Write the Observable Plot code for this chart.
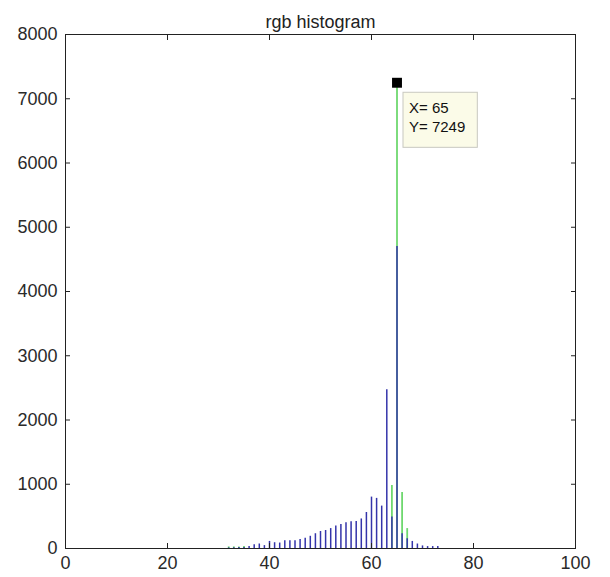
<!DOCTYPE html>
<html>
<head>
<meta charset="utf-8">
<script src="https://cdn.jsdelivr.net/npm/d3@7"></script>
<script src="https://cdn.jsdelivr.net/npm/@observablehq/plot@0.6"></script>
<style>
  html, body { margin: 0; padding: 0; background: #fff; }
  #chart { width: 610px; height: 577px; }
</style>
</head>
<body>
<div id="chart"></div>
<script>
// ---- data ----
const chartTitle = "rgb histogram";
const binX = [32,33,34,35,36,37,38,39,40,41,42,43,44,45,46,47,48,49,50,51,52,53,54,55,56,57,58,59,60,61,62,63,64,65,66,67,68,69,70,71,72,73];
const blueCounts = [10,10,15,15,30,58,70,45,110,90,85,120,120,120,140,160,190,230,265,280,310,350,375,400,415,420,460,560,800,780,660,2470,490,4700,230,150,110,70,40,30,30,30];
const greenX = [32,33,34,35,64,65,66,67];
const greenCounts = [25,25,25,30,980,7249,870,310];
const xTicks = [0,20,40,60,80,100];
const yTicks = [0,1000,2000,3000,4000,5000,6000,7000,8000];
const tipX = [65];
const tipY = [7249];

const blue = binX.map((x, i) => ({x, v: blueCounts[i]}));
const green = greenX.map((x, i) => ({x, v: greenCounts[i]}));
const tip = tipX.map((x, i) => ({x, y: tipY[i], label: `X= ${x}\nY= ${tipY[i]}`}));

const font = "'Liberation Sans', Arial, sans-serif";
const plot = Plot.plot({
  width: 610,
  height: 577,
  marginTop: 34,
  marginRight: 35,
  marginBottom: 29,
  marginLeft: 65,
  style: {fontFamily: font, fontSize: "18px", color: "#2a2a2a", background: "#fff"},
  x: {domain: [0, 100]},
  y: {domain: [0, 8000]},
  marks: [
    Plot.ruleX(green, {x: "x", y1: 0, y2: "v", stroke: "#6fd86f", strokeWidth: 1.8}),
    Plot.ruleX(blue, {x: "x", y1: 0, y2: "v", stroke: "#3434aa", strokeWidth: 1.5}),
    Plot.frame({stroke: "#222", strokeWidth: 1}),
    // labels
    Plot.axisX({anchor: "bottom", ticks: xTicks, tickSize: 0, tickPadding: 8, fontSize: 18, tickFormat: d => String(d), label: null}),
    Plot.axisY({anchor: "left", ticks: yTicks, tickSize: 0, tickPadding: 8, fontSize: 18, tickFormat: d => String(d), label: null}),
    // inner tick marks on all four sides
    Plot.axisX({anchor: "bottom", ticks: xTicks, tickSize: -5, tickFormat: () => "", label: null, stroke: "#222"}),
    Plot.axisX({anchor: "top", ticks: xTicks, tickSize: -5, tickFormat: () => "", label: null, stroke: "#222"}),
    Plot.axisY({anchor: "left", ticks: yTicks, tickSize: -5, tickFormat: () => "", label: null, stroke: "#222"}),
    Plot.axisY({anchor: "right", ticks: yTicks, tickSize: -5, tickFormat: () => "", label: null, stroke: "#222"}),
    // title
    Plot.text([chartTitle], {frameAnchor: "top", text: d => d, dy: -19, fontSize: 18, fill: "#222"}),
    // data tip
    Plot.dot(tip, {x: "x", y: "y", symbol: "square", r: 5.6, fill: "#000"}),
    Plot.text(tip, {x: "x", y: "y", text: "label", textAnchor: "start", lineAnchor: "top", dx: 12, dy: 17, fontSize: 15, lineHeight: 1.27, fill: "#111", className: "datatip"})
  ]
});
document.getElementById("chart").appendChild(plot);

// box behind the data-tip text, sized from the rendered text
const g = plot.querySelector("g.datatip") || [...plot.querySelectorAll("g[aria-label='text']")].pop();
if (g) {
  const bb = g.getBBox();
  const rect = document.createElementNS("http://www.w3.org/2000/svg", "rect");
  rect.setAttribute("x", bb.x - 6);
  rect.setAttribute("y", bb.y - 7);
  rect.setAttribute("width", bb.width + 18);
  rect.setAttribute("height", bb.height + 19);
  rect.setAttribute("fill", "#fbfbe8");
  rect.setAttribute("stroke", "#c8c8c0");
  rect.setAttribute("stroke-width", "1");
  g.insertBefore(rect, g.firstChild);
}
</script>
</body>
</html>
